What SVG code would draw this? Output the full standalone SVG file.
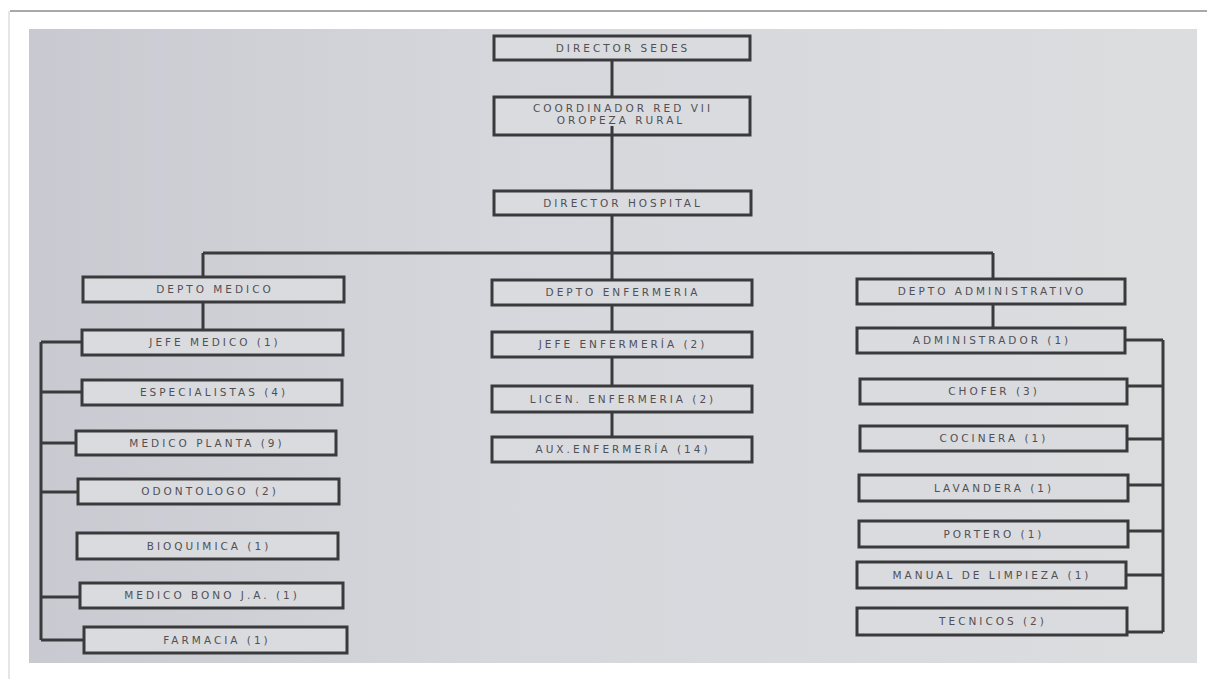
<svg xmlns="http://www.w3.org/2000/svg" width="1207" height="679" viewBox="0 0 1207 679">
<defs>
<linearGradient id="bg" x1="0" y1="0" x2="1" y2="0">
<stop offset="0" stop-color="#c9cad1"/>
<stop offset="0.4" stop-color="#d6d7dc"/>
<stop offset="1" stop-color="#dcdddf"/>
</linearGradient>
<style>
.box{fill:#dadbdf;stroke:#3a3a3d;stroke-width:3}
.t{font-family:"DejaVu Sans","Liberation Sans",sans-serif;font-size:10.5px;letter-spacing:3px;fill:#505054;text-anchor:middle}
.c{stroke:#3a3a3d;stroke-width:3;fill:none}
</style>
</defs>
<rect x="0" y="0" width="1207" height="679" fill="#ffffff"/>
<line x1="10" y1="11" x2="1207" y2="11" stroke="#a9a9ab" stroke-width="2"/>
<line x1="9" y1="11" x2="9" y2="679" stroke="#e6e6e8" stroke-width="2"/>
<rect x="29" y="29" width="1168" height="634" fill="url(#bg)"/>

<g id="director-sedes"><rect class="box" x="494" y="36" width="256" height="24"/><text class="t" x="623" y="52">DIRECTOR SEDES</text></g>
<g id="coordinador"><rect class="box" x="494" y="97" width="256" height="38"/><text class="t" x="623" y="112">COORDINADOR RED VII</text><text class="t" x="621" y="124">OROPEZA RURAL</text></g>
<g id="director-hospital"><rect class="box" x="494" y="191" width="257" height="24"/><text class="t" x="623" y="207">DIRECTOR HOSPITAL</text></g>

<g id="depto-medico"><rect class="box" x="83" y="277" width="261" height="25"/><text class="t" x="215" y="293">DEPTO MEDICO</text></g>
<g id="jefe-medico"><rect class="box" x="82" y="330" width="261" height="25"/><text class="t" x="215" y="346">JEFE MEDICO (1)</text></g>
<g id="especialistas"><rect class="box" x="82" y="380" width="260" height="25"/><text class="t" x="214" y="396">ESPECIALISTAS (4)</text></g>
<g id="medico-planta"><rect class="box" x="76" y="431" width="260" height="24"/><text class="t" x="207" y="447">MEDICO PLANTA (9)</text></g>
<g id="odontologo"><rect class="box" x="78" y="479" width="261" height="25"/><text class="t" x="210" y="495">ODONTOLOGO (2)</text></g>
<g id="bioquimica"><rect class="box" x="77" y="533" width="261" height="26"/><text class="t" x="209" y="550">BIOQUIMICA (1)</text></g>
<g id="medico-bono"><rect class="box" x="80" y="583" width="263" height="25"/><text class="t" x="212" y="599">MEDICO BONO J.A.  (1)</text></g>
<g id="farmacia"><rect class="box" x="84" y="627" width="263" height="26"/><text class="t" x="217" y="644">FARMACIA  (1)</text></g>

<g id="depto-enfermeria"><rect class="box" x="492" y="280" width="260" height="25"/><text class="t" x="623" y="296">DEPTO ENFERMERIA</text></g>
<g id="jefe-enfermeria"><rect class="box" x="492" y="332" width="260" height="25"/><text class="t" x="623" y="348">JEFE ENFERMERÍA (2)</text></g>
<g id="licen-enfermeria"><rect class="box" x="492" y="386" width="260" height="26"/><text class="t" x="623" y="403">LICEN. ENFERMERIA (2)</text></g>
<g id="aux-enfermeria"><rect class="box" x="492" y="437" width="260" height="25"/><text class="t" x="623" y="453">AUX.ENFERMERÍA (14)</text></g>

<g id="depto-administrativo"><rect class="box" x="857" y="279" width="268" height="25"/><text class="t" x="992" y="295">DEPTO ADMINISTRATIVO</text></g>
<g id="administrador"><rect class="box" x="857" y="328" width="268" height="25"/><text class="t" x="992" y="344">ADMINISTRADOR (1)</text></g>
<g id="chofer"><rect class="box" x="860" y="379" width="267" height="25"/><text class="t" x="994" y="395">CHOFER  (3)</text></g>
<g id="cocinera"><rect class="box" x="860" y="426" width="267" height="25"/><text class="t" x="994" y="442">COCINERA  (1)</text></g>
<g id="lavandera"><rect class="box" x="859" y="475" width="269" height="26"/><text class="t" x="994" y="492">LAVANDERA  (1)</text></g>
<g id="portero"><rect class="box" x="859" y="521" width="269" height="26"/><text class="t" x="994" y="538">PORTERO  (1)</text></g>
<g id="manual-limpieza"><rect class="box" x="857" y="562" width="269" height="26"/><text class="t" x="992" y="579">MANUAL DE LIMPIEZA (1)</text></g>
<g id="tecnicos"><rect class="box" x="857" y="608" width="270" height="27"/><text class="t" x="993" y="625">TECNICOS  (2)</text></g>

<g id="connectors">
<path class="c" d="M612 61V96M612 126V190M612 216V253M203 253H993M203 253V276M612 253V279M993 253V278"/>
<path class="c" d="M203 303V329M612 306V331M612 358V385M612 413V436M993 305V327"/>
<path class="c" d="M41 342V640M41 342H81M41 392H81M41 443H75M41 492H77M41 597H79M41 640H83"/>
<path class="c" d="M1163 340V632M1126 340H1163M1128 386H1163M1128 439H1163M1129 485H1163M1129 531H1163M1127 575H1163M1128 632H1163"/>
</g>
</svg>
